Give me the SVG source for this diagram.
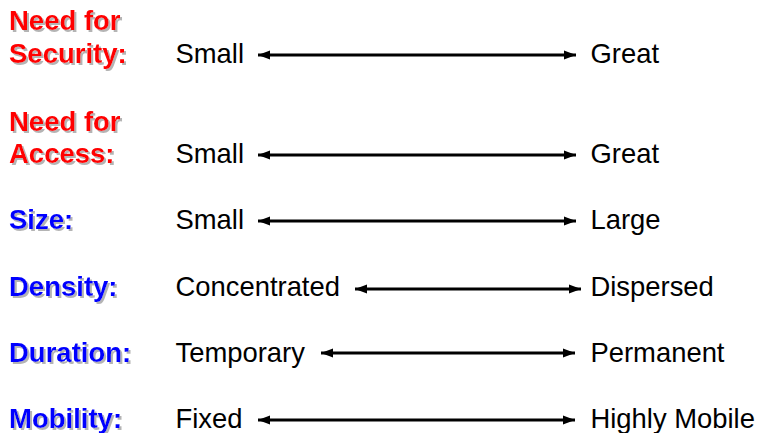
<svg xmlns="http://www.w3.org/2000/svg" width="759" height="433" viewBox="0 0 759 433">
<style>
.lbl{font-family:"Liberation Sans",Arial,sans-serif;font-weight:bold;font-size:27.5px;filter:url(#shadow)}
.red{fill:#ff0000}
.blue{fill:#0000ff}
.val{font-family:"Liberation Sans",Arial,sans-serif;font-size:27.4px;fill:#000}
.arr{stroke:#000;stroke-width:3;fill:none;marker-start:url(#ah);marker-end:url(#ah)}
</style>
<defs>
<filter id="shadow" x="-5%" y="-20%" width="115%" height="150%">
<feFlood flood-color="#b4b4b4" result="c"/>
<feComposite in="c" in2="SourceAlpha" operator="in" result="s"/>
<feOffset in="s" dx="2" dy="2" result="o"/>
<feMerge><feMergeNode in="o"/><feMergeNode in="SourceGraphic"/></feMerge>
</filter>
<marker id="ah" viewBox="0 0 12 10" refX="12" refY="5" markerWidth="12" markerHeight="10" markerUnits="userSpaceOnUse" orient="auto-start-reverse">
<path d="M0,0.5 L12,5 L0,9.5 z" fill="#000"/>
</marker>
</defs>
<rect width="759" height="433" fill="#fff"/>
<g id="security">
<text class="lbl red" x="9" y="30"><tspan x="9">Need for</tspan><tspan x="9" y="63">Security:</tspan></text>
<text class="val" x="175.5" y="63">Small</text>
<text class="val" x="590.5" y="63">Great</text>
</g>
<g id="access">
<text class="lbl red" x="9" y="130.5"><tspan x="9">Need for</tspan><tspan x="9" y="163">Access:</tspan></text>
<text class="val" x="175.5" y="163">Small</text>
<text class="val" x="590.5" y="163">Great</text>
</g>
<g id="size">
<text class="lbl blue" x="9" y="229">Size:</text>
<text class="val" x="175.5" y="229">Small</text>
<text class="val" x="590.5" y="229">Large</text>
</g>
<g id="density">
<text class="lbl blue" x="9" y="296">Density:</text>
<text class="val" x="175.5" y="296">Concentrated</text>
<text class="val" x="590.5" y="296">Dispersed</text>
</g>
<g id="duration">
<text class="lbl blue" x="9" y="362">Duration:</text>
<text class="val" x="175.5" y="362">Temporary</text>
<text class="val" x="590.5" y="362">Permanent</text>
</g>
<g id="mobility">
<text class="lbl blue" x="9" y="428">Mobility:</text>
<text class="val" x="175.5" y="428">Fixed</text>
<text class="val" x="590.5" y="428">Highly Mobile</text>
</g>
<g id="connectors">
<line class="arr" x1="258" y1="55" x2="576" y2="55"/>
<line class="arr" x1="258" y1="155" x2="576" y2="155"/>
<line class="arr" x1="258" y1="221" x2="576" y2="221"/>
<line class="arr" x1="355" y1="289" x2="581" y2="289"/>
<line class="arr" x1="321" y1="353" x2="575" y2="353"/>
<line class="arr" x1="258" y1="420" x2="575" y2="420"/>
</g>
</svg>
